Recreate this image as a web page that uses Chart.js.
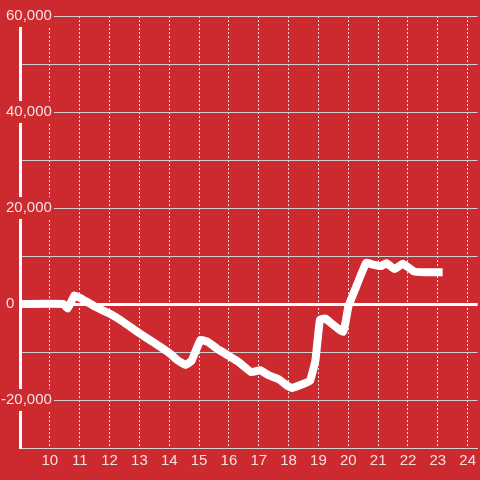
<!DOCTYPE html>
<html>
<head>
<meta charset="utf-8">
<script src="https://cdn.jsdelivr.net/npm/chart.js@4/dist/chart.umd.min.js"></script>
<style>
  html, body { margin: 0; padding: 0; background: #cc2a2f; }
  #wrap { width: 480px; height: 480px; position: relative; }
</style>
</head>
<body>
<div id="wrap"><canvas id="c"></canvas></div>
<script>
// Hours (x) and values (y)
const hours = [9, 10.45, 10.6, 10.83, 11, 11.5, 12, 12.45, 13, 13.5, 14, 14.3, 14.55, 14.75, 15.05, 15.3, 15.6, 16, 16.35, 16.75, 17.05, 17.35, 17.65, 18, 18.1, 18.55, 18.72, 18.9, 19.05, 19.22, 19.83, 20.0, 20.22, 20.6, 20.83, 21.1, 21.28, 21.55, 21.83, 22.2, 22.55, 23.03];
const values = [0, 0, -900, 1800, 1300, -500, -2000, -3700, -6100, -8100, -10200, -11800, -12700, -11800, -7500, -7900, -9300, -10800, -12200, -14200, -13800, -14900, -15600, -17200, -17500, -16500, -16000, -11700, -3300, -3000, -5800, -600, 2900, 8600, 8200, 7900, 8500, 7300, 8400, 6800, 6600, 6600];
const xTickLabels = [10, 11, 12, 13, 14, 15, 16, 17, 18, 19, 20, 21, 22, 23, 24];
const yLabeledTicks = [60000, 40000, 20000, 0, -20000];

const BG = '#cc2a2f';
const LABEL = 'rgba(255,255,255,0.85)';

const points = hours.map((h, i) => ({ x: h, y: values[i] }));

new Chart(document.getElementById('c'), {
  type: 'line',
  data: {
    datasets: [{
      data: points,
      borderColor: '#ffffff',
      borderWidth: 8,
      borderJoinStyle: 'round',
      borderCapStyle: 'square',
      tension: 0.1,
      pointRadius: 0,
      fill: false
    }]
  },
  options: {
    responsive: true,
    maintainAspectRatio: false,
    animation: false,
    layout: { padding: { top: 16, left: 0, right: 0, bottom: 0 } },
    plugins: { legend: { display: false }, tooltip: { enabled: false } },
    scales: {
      x: {
        type: 'linear',
        min: 9,
        max: 9 + 460 / 30,
        afterFit: (s) => { s.height = 32; },
        afterBuildTicks: (s) => {
          s.ticks = xTickLabels.map(v => ({ value: v }));
        },
        ticks: {
          stepSize: 1,
          includeBounds: false,
          padding: 4,
          color: LABEL,
          font: { family: 'Liberation Sans, Arial, sans-serif', size: 15 },
          maxRotation: 0,
          autoSkip: false,
          callback: (v) => String(v)
        },
        grid: {
          drawTicks: false,
          color: 'rgba(255,255,255,0.85)',
          lineWidth: 1
        },
        border: { display: true, color: '#d4d4d4', width: 1, dash: [2, 2] }
      },
      y: {
        min: -30000,
        max: 60000,
        afterFit: (s) => { s.width = 20; },
        ticks: {
          stepSize: 10000,
          mirror: true,
          crossAlign: 'far',
          padding: -19,
          color: LABEL,
          font: { family: 'Liberation Sans, Arial, sans-serif', size: 15 },
          showLabelBackdrop: true,
          backdropPadding: { left: 2, right: 2, top: 2, bottom: 2 },
          backdropColor: (ctx) => (ctx.tick && yLabeledTicks.includes(ctx.tick.value) && ctx.tick.value !== 0) ? BG : 'rgba(0,0,0,0)',
          callback: (v) => {
            if (!yLabeledTicks.includes(v)) return '';
            if (v === 0) return '0         ';
            return v.toLocaleString('en-US');
          }
        },
        grid: {
          drawTicks: false,
          color: (ctx) => (ctx.tick && ctx.tick.value === 0) ? '#ffffff' : '#cfcfcf',
          lineWidth: (ctx) => (ctx.tick && ctx.tick.value === 0) ? 3 : 1
        },
        border: { display: true, color: '#ffffff', width: 3 }
      }
    }
  }
});
</script>
</body>
</html>
